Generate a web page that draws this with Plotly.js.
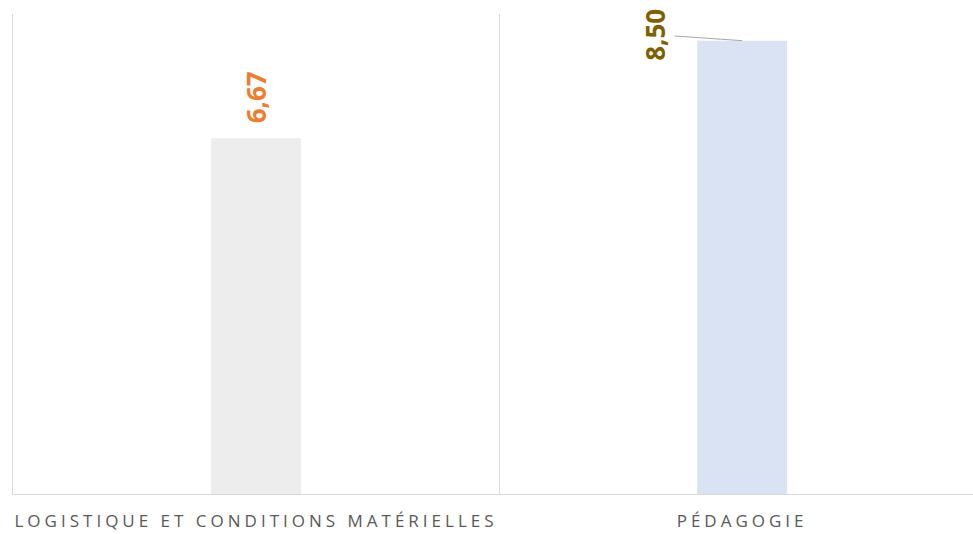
<!DOCTYPE html>
<html>
<head>
<meta charset="utf-8">
<script src="https://cdn.plot.ly/plotly-3.0.1.min.js"></script>
<style>
html,body{margin:0;padding:0;background:#fff;overflow:hidden;}
#chart{width:973px;height:534px;}
.xtick text{letter-spacing:4px;}
</style>
</head>
<body>
<div id="chart"></div>
<script>
const categories = ["LOGISTIQUE ET CONDITIONS MATÉRIELLES", "PÉDAGOGIE"];
const values = [6.67, 8.50];
const barColors = ["#EDEDED", "#DAE3F3"];
const labelColors = ["#ED7D31", "#7F6000"];

const fmt = v => v.toFixed(2).replace(".", ",");

const trace = {
  type: "bar",
  x: categories,
  y: values,
  marker: {color: barColors},
  width: 0.185,
  hoverinfo: "skip"
};

const annotations = [
  {
    x: categories[0], y: values[0], xref: "x", yref: "y",
    text: "<b>" + fmt(values[0]) + "</b>",
    textangle: -90, showarrow: false,
    yanchor: "bottom", xanchor: "center", yshift: 13,
    font: {family: "Open Sans, sans-serif", size: 26, color: labelColors[0]}
  },
  {
    x: categories[1], y: values[1], xref: "x", yref: "y",
    text: "<b>" + fmt(values[1]) + "</b>",
    textangle: -90, showarrow: true, arrowhead: 0, arrowwidth: 1,
    arrowcolor: "#A6A6A6", ax: -87, ay: -6, standoff: 0,
    font: {family: "Open Sans, sans-serif", size: 26, color: labelColors[1]}
  }
];

const layout = {
  width: 973, height: 534,
  margin: {l: 13, r: 0, t: 14, b: 40},
  paper_bgcolor: "#ffffff", plot_bgcolor: "#ffffff",
  showlegend: false,
  separators: ", ",
  xaxis: {
    type: "category",
    range: [-0.5, 1.475],
    tickson: "boundaries",
    showgrid: true, gridcolor: "#D9D9D9", gridwidth: 1,
    showline: true, linecolor: "#D9D9D9", linewidth: 1,
    ticks: "", zeroline: false,
    ticklabelstandoff: 12,
    tickfont: {family: "Open Sans, sans-serif", size: 17, color: "#595959"}
  },
  yaxis: {
    range: [0, 9],
    showgrid: false, zeroline: false, showticklabels: false, ticks: "",
    showline: true, linecolor: "#D9D9D9", linewidth: 1
  },
  annotations: annotations
};

Plotly.newPlot("chart", [trace], layout, {displayModeBar: false, staticPlot: true});
</script>
</body>
</html>
